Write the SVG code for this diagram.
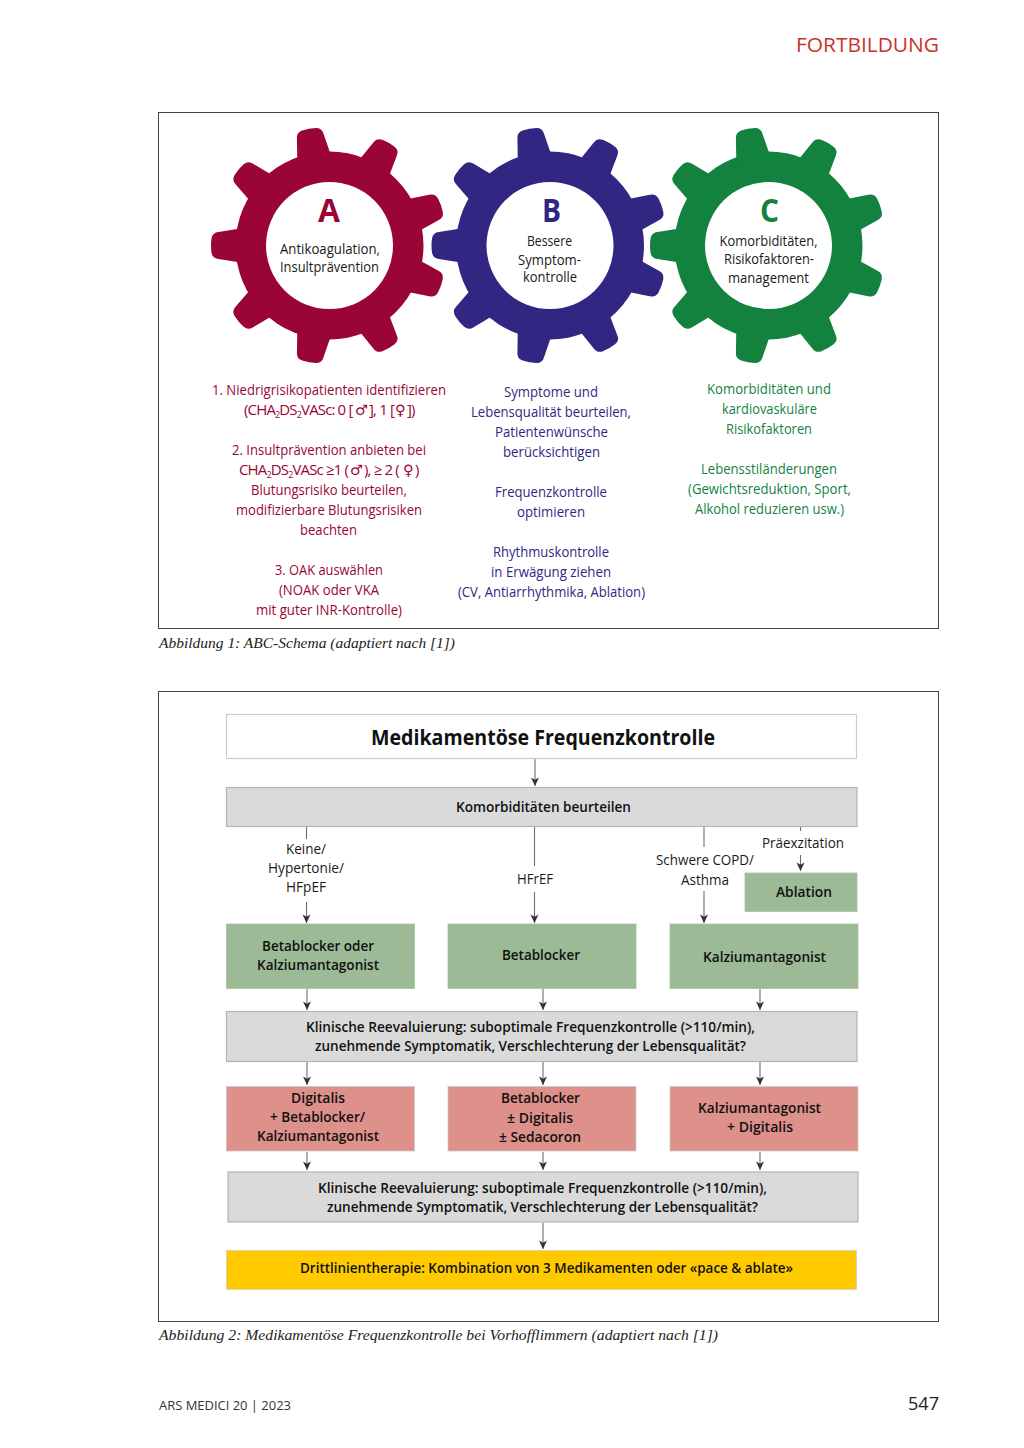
<svg xmlns="http://www.w3.org/2000/svg" width="1024" height="1448" viewBox="0 0 1024 1448">
<style>
text{font-family:"Open Sans","Noto Sans","Liberation Sans",sans-serif;font-size:15px;fill:#1a1a1a}
.b{font-weight:600;fill:#111}
.lab{font-size:15px}
.g{font-size:14.5px}
.sym{font-family:"DejaVu Sans",sans-serif;font-size:14.5px;font-weight:700;letter-spacing:0}
.sub{font-size:9px}
.mix{letter-spacing:-.85px}
.red text,text.red{fill:#9b0535}
.blue text{fill:#312783}
.green text{fill:#13823f}
.cap{font-family:"Liberation Serif",serif;font-style:italic;font-size:15.5px;fill:#222}
.letter{font-size:33px;font-weight:700}
.frame{fill:none;stroke:#444;stroke-width:1}
.grey{fill:#dadada;stroke:#b5b5b5;stroke-width:1.2}
.gr{fill:#9bba95;stroke:#a9c4a4;stroke-width:.8}
.pk{fill:#de908a;stroke:#c9c9c9;stroke-width:.8}
.conn line{stroke:#6e6e6e;stroke-width:1.1}
.conn line.a{marker-end:url(#arr)}
</style>
<defs>
<marker id="arr" markerUnits="userSpaceOnUse" markerWidth="10" markerHeight="10" refX="9.5" refY="5" orient="auto" viewBox="0 0 10 10"><path d="M9.5 5L1 1L3.2 5L1 9Z" fill="#333"/></marker>
<path id="tooth" d="M-17.5-86L-13.5-111Q-13-117-7-118Q0-119 7-118Q13-117 13.5-111L17.5-86Z"/>
<g id="gear">
<circle r="94"/>
<use href="#tooth" transform="rotate(-10)"/><use href="#tooth" transform="rotate(30)"/><use href="#tooth" transform="rotate(70)"/><use href="#tooth" transform="rotate(110)"/><use href="#tooth" transform="rotate(150)"/><use href="#tooth" transform="rotate(190)"/><use href="#tooth" transform="rotate(230)"/><use href="#tooth" transform="rotate(270)"/><use href="#tooth" transform="rotate(310)"/>
<circle r="63.5" fill="#fff"/>
</g>
</defs>
<rect width="1024" height="1448" fill="#fff"/>
<text id="header" x="796" y="52" textLength="143" lengthAdjust="spacingAndGlyphs" style="font-size:20px;font-weight:500;fill:#c9322c">FORTBILDUNG</text>
<rect class="frame" x="158.5" y="112.5" width="780" height="516"/>
<rect class="frame" x="158.5" y="691.5" width="780" height="630"/>

<g id="gear-a" class="red"><use href="#gear" x="329.5" y="245.5" fill="#9b0535"/>
<text class="letter" x="318" y="222" textLength="22" lengthAdjust="spacingAndGlyphs">A</text>
<text class="g" x="280" y="254" textLength="100" lengthAdjust="spacingAndGlyphs" style="fill:#1a1a1a">Antikoagulation,</text>
<text class="g" x="280" y="272" textLength="99" lengthAdjust="spacingAndGlyphs" style="fill:#1a1a1a">Insultprävention</text></g>
<g id="gear-b" class="blue"><use href="#gear" x="550" y="245.5" fill="#312783"/>
<text class="letter" x="542" y="222" textLength="19" lengthAdjust="spacingAndGlyphs">B</text>
<text class="g" x="527" y="246" textLength="45" lengthAdjust="spacingAndGlyphs" style="fill:#1a1a1a">Bessere</text>
<text class="g" x="518" y="265" textLength="63" lengthAdjust="spacingAndGlyphs" style="fill:#1a1a1a">Symptom-</text>
<text class="g" x="523" y="282" textLength="54" lengthAdjust="spacingAndGlyphs" style="fill:#1a1a1a">kontrolle</text></g>
<g id="gear-c" class="green"><use href="#gear" x="768.5" y="245.5" fill="#13823f"/>
<text class="letter" x="760" y="222" textLength="19" lengthAdjust="spacingAndGlyphs">C</text>
<text class="g" x="719.5" y="246" textLength="98" lengthAdjust="spacingAndGlyphs" style="fill:#1a1a1a">Komorbiditäten,</text>
<text class="g" x="724" y="264" textLength="90" lengthAdjust="spacingAndGlyphs" style="fill:#1a1a1a">Risikofaktoren-</text>
<text class="g" x="728" y="283" textLength="81" lengthAdjust="spacingAndGlyphs" style="fill:#1a1a1a">management</text></g>

<g id="text-a" class="red">
<text x="212" y="395" textLength="234" lengthAdjust="spacingAndGlyphs">1. Niedrigrisikopatienten identifizieren</text>
<text class="mix" x="244" y="415">(CHA<tspan class="sub" dy="3">2</tspan><tspan dy="-3">DS</tspan><tspan class="sub" dy="3">2</tspan><tspan dy="-3">VASc: 0 [</tspan><tspan class="sym" x="355">♂</tspan><tspan x="369">], 1 [</tspan><tspan class="sym" x="395">♀</tspan><tspan x="407">])</tspan></text>
<text x="232" y="455" textLength="194" lengthAdjust="spacingAndGlyphs">2. Insultprävention anbieten bei</text>
<text class="mix" x="239" y="475">CHA<tspan class="sub" dy="3">2</tspan><tspan dy="-3">DS</tspan><tspan class="sub" dy="3">2</tspan><tspan dy="-3">VASc ≥1 (</tspan><tspan class="sym" x="350">♂</tspan><tspan x="364">), ≥ 2 (</tspan><tspan class="sym" x="403">♀</tspan><tspan x="415">)</tspan></text>
<text x="251" y="495" textLength="156" lengthAdjust="spacingAndGlyphs">Blutungsrisiko beurteilen,</text>
<text x="236" y="515" textLength="186" lengthAdjust="spacingAndGlyphs">modifizierbare Blutungsrisiken</text>
<text x="300" y="535" textLength="57" lengthAdjust="spacingAndGlyphs">beachten</text>
<text x="275" y="575" textLength="108" lengthAdjust="spacingAndGlyphs">3. OAK auswählen</text>
<text x="279" y="595" textLength="100" lengthAdjust="spacingAndGlyphs">(NOAK oder VKA</text>
<text x="256" y="615" textLength="146" lengthAdjust="spacingAndGlyphs">mit guter INR-Kontrolle)</text>
</g>
<g id="text-b" class="blue">
<text x="504" y="397" textLength="94" lengthAdjust="spacingAndGlyphs">Symptome und</text>
<text x="471" y="417" textLength="160" lengthAdjust="spacingAndGlyphs">Lebensqualität beurteilen,</text>
<text x="495" y="437" textLength="113" lengthAdjust="spacingAndGlyphs">Patientenwünsche</text>
<text x="503" y="457" textLength="97" lengthAdjust="spacingAndGlyphs">berücksichtigen</text>
<text x="495" y="497" textLength="112" lengthAdjust="spacingAndGlyphs">Frequenzkontrolle</text>
<text x="517" y="517" textLength="68" lengthAdjust="spacingAndGlyphs">optimieren</text>
<text x="493" y="557" textLength="116" lengthAdjust="spacingAndGlyphs">Rhythmuskontrolle</text>
<text x="491" y="577" textLength="120" lengthAdjust="spacingAndGlyphs">in Erwägung ziehen</text>
<text x="458" y="597" textLength="187" lengthAdjust="spacingAndGlyphs">(CV, Antiarrhythmika, Ablation)</text>
</g>
<g id="text-c" class="green">
<text x="707" y="394" textLength="124" lengthAdjust="spacingAndGlyphs">Komorbiditäten und</text>
<text x="722" y="414" textLength="95" lengthAdjust="spacingAndGlyphs">kardiovaskuläre</text>
<text x="726" y="434" textLength="86" lengthAdjust="spacingAndGlyphs">Risikofaktoren</text>
<text x="701" y="474" textLength="136" lengthAdjust="spacingAndGlyphs">Lebensstiländerungen</text>
<text x="688" y="494" textLength="163" lengthAdjust="spacingAndGlyphs">(Gewichtsreduktion, Sport,</text>
<text x="695" y="514" textLength="149" lengthAdjust="spacingAndGlyphs">Alkohol reduzieren usw.)</text>
</g>
<text class="cap" x="159" y="648" textLength="296" lengthAdjust="spacingAndGlyphs">Abbildung 1: ABC-Schema (adaptiert nach [1])</text>

<g id="connectors" class="conn">
<line class="a" x1="535" y1="759" x2="535" y2="786"/>
<line x1="306.5" y1="827" x2="306.5" y2="839"/><line class="a" x1="306.5" y1="902" x2="306.5" y2="923"/>
<line x1="534.5" y1="827" x2="534.5" y2="866"/><line class="a" x1="534.5" y1="892" x2="534.5" y2="923"/>
<line x1="704" y1="827" x2="704" y2="847"/><line class="a" x1="704" y1="891" x2="704" y2="923"/>
<line x1="800.5" y1="827" x2="800.5" y2="831"/><line class="a" x1="800.5" y1="855" x2="800.5" y2="871"/>
<line class="a" x1="307" y1="989" x2="307" y2="1010"/><line class="a" x1="543" y1="989" x2="543" y2="1010"/><line class="a" x1="760" y1="989" x2="760" y2="1010"/>
<line class="a" x1="307" y1="1062" x2="307" y2="1085"/><line class="a" x1="543" y1="1062" x2="543" y2="1085"/><line class="a" x1="760" y1="1062" x2="760" y2="1085"/>
<line class="a" x1="307" y1="1152" x2="307" y2="1170"/><line class="a" x1="543" y1="1152" x2="543" y2="1170"/><line class="a" x1="760" y1="1152" x2="760" y2="1170"/>
<line class="a" x1="543" y1="1223" x2="543" y2="1249"/>
</g>

<g id="title"><rect x="226.5" y="714.5" width="630" height="44" fill="#fff" stroke="#ccc" stroke-width="1.2"/>
<text class="b" x="371" y="745" textLength="344" lengthAdjust="spacingAndGlyphs" style="font-size:22px;font-weight:700">Medikamentöse Frequenzkontrolle</text></g>
<g id="komorb"><rect class="grey" x="226.5" y="787.5" width="630.5" height="39"/>
<text class="b" x="456" y="812" textLength="175" lengthAdjust="spacingAndGlyphs">Komorbiditäten beurteilen</text></g>
<g id="labels">
<text class="lab" x="286" y="853.5" textLength="40" lengthAdjust="spacingAndGlyphs">Keine/</text>
<text class="lab" x="268" y="872.5" textLength="76" lengthAdjust="spacingAndGlyphs">Hypertonie/</text>
<text class="lab" x="286" y="891.5" textLength="40" lengthAdjust="spacingAndGlyphs">HFpEF</text>
<text class="lab" x="517" y="883.5" textLength="36" lengthAdjust="spacingAndGlyphs">HFrEF</text>
<text class="lab" x="656" y="865" textLength="98" lengthAdjust="spacingAndGlyphs">Schwere COPD/</text>
<text class="lab" x="681" y="884.5" textLength="48" lengthAdjust="spacingAndGlyphs">Asthma</text>
<text class="lab" x="762" y="848" textLength="82" lengthAdjust="spacingAndGlyphs">Präexzitation</text>
</g>
<g id="ablation"><rect class="gr" x="745" y="873" width="112" height="38.5"/>
<text class="b" x="776" y="897" textLength="56" lengthAdjust="spacingAndGlyphs">Ablation</text></g>
<g id="g1"><rect class="gr" x="226.5" y="924" width="188" height="64.5"/>
<text class="b" x="262" y="951" textLength="112" lengthAdjust="spacingAndGlyphs">Betablocker oder</text>
<text class="b" x="257" y="970" textLength="122" lengthAdjust="spacingAndGlyphs">Kalziumantagonist</text></g>
<g id="g2"><rect class="gr" x="448" y="924" width="188" height="64.5"/>
<text class="b" x="502" y="960" textLength="78" lengthAdjust="spacingAndGlyphs">Betablocker</text></g>
<g id="g3"><rect class="gr" x="670" y="924" width="188" height="64.5"/>
<text class="b" x="703" y="962" textLength="123" lengthAdjust="spacingAndGlyphs">Kalziumantagonist</text></g>
<g id="reeval1"><rect class="grey" x="226.5" y="1011.5" width="630.5" height="50"/>
<text class="b" x="306" y="1032" textLength="449" lengthAdjust="spacingAndGlyphs">Klinische Reevaluierung: suboptimale Frequenzkontrolle (&gt;110/min),</text>
<text class="b" x="315" y="1051" textLength="431" lengthAdjust="spacingAndGlyphs">zunehmende Symptomatik, Verschlechterung der Lebensqualität?</text></g>
<g id="r1"><rect class="pk" x="226.5" y="1086.5" width="188" height="64.5"/>
<text class="b" x="291" y="1103" textLength="54" lengthAdjust="spacingAndGlyphs">Digitalis</text>
<text class="b" x="270" y="1122" textLength="95" lengthAdjust="spacingAndGlyphs">+ Betablocker/</text>
<text class="b" x="257" y="1141" textLength="122" lengthAdjust="spacingAndGlyphs">Kalziumantagonist</text></g>
<g id="r2"><rect class="pk" x="448" y="1086.5" width="188" height="64.5"/>
<text class="b" x="501" y="1103" textLength="79" lengthAdjust="spacingAndGlyphs">Betablocker</text>
<text class="b" x="507" y="1123" textLength="66" lengthAdjust="spacingAndGlyphs">± Digitalis</text>
<text class="b" x="499" y="1142" textLength="82" lengthAdjust="spacingAndGlyphs">± Sedacoron</text></g>
<g id="r3"><rect class="pk" x="670" y="1086.5" width="188" height="64.5"/>
<text class="b" x="698" y="1113" textLength="123" lengthAdjust="spacingAndGlyphs">Kalziumantagonist</text>
<text class="b" x="727" y="1132" textLength="66" lengthAdjust="spacingAndGlyphs">+ Digitalis</text></g>
<g id="reeval2"><rect class="grey" x="228" y="1172" width="630" height="50"/>
<text class="b" x="318" y="1193" textLength="449" lengthAdjust="spacingAndGlyphs">Klinische Reevaluierung: suboptimale Frequenzkontrolle (&gt;110/min),</text>
<text class="b" x="327" y="1212" textLength="431" lengthAdjust="spacingAndGlyphs">zunehmende Symptomatik, Verschlechterung der Lebensqualität?</text></g>
<g id="third"><rect x="226.5" y="1250.5" width="630" height="39" fill="#ffcb00" stroke="#d0d0d0" stroke-width=".8"/>
<text class="b" x="300" y="1273" textLength="493" lengthAdjust="spacingAndGlyphs">Drittlinientherapie: Kombination von 3 Medikamenten oder «pace &amp; ablate»</text></g>
<text class="cap" x="159" y="1340" textLength="559" lengthAdjust="spacingAndGlyphs">Abbildung 2: Medikamentöse Frequenzkontrolle bei Vorhofflimmern (adaptiert nach [1])</text>
<text x="159" y="1410" textLength="132" lengthAdjust="spacingAndGlyphs" style="font-size:13px;fill:#333">ARS MEDICI 20 | 2023</text>
<text x="908" y="1410" textLength="31" lengthAdjust="spacingAndGlyphs" style="font-size:18px;fill:#222">547</text>
</svg>
